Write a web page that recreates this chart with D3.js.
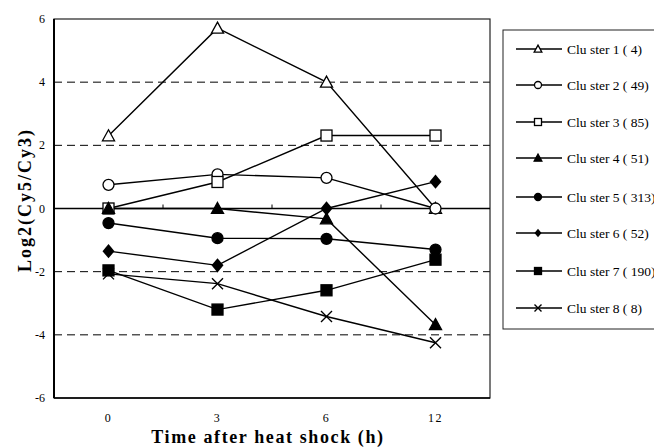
<!DOCTYPE html>
<html>
<head>
<meta charset="utf-8">
<script src="https://cdn.jsdelivr.net/npm/d3@7"></script>
<style>
body { margin: 0; background: #fff; }
svg text { font-family: "Liberation Serif", "Times New Roman", serif; }
</style>
</head>
<body>
<div id="chart"></div>
<script>
var times = ["0", "3", "6", "12"];
var yTicks = [-6, -4, -2, 0, 2, 4, 6];
var clusterNames = ["Clu ster 1 ( 4)", "Clu ster 2 ( 49)", "Clu ster 3 ( 85)", "Clu ster 4 ( 51)",
    "Clu ster 5 ( 313)", "Clu ster 6 ( 52)", "Clu ster 7 ( 190)", "Clu ster 8 ( 8)"];
var markers = ["triangleOpen", "circleOpen", "squareOpen", "triangle", "circle", "diamond", "square", "cross"];
var c1 = [2.3, 5.71, 4.0, 0];
var c2 = [0.75, 1.08, 0.97, 0];
var c3 = [0, 0.84, 2.31, 2.31];
var c4 = [0, 0, -0.33, -3.68];
var c5 = [-0.46, -0.94, -0.96, -1.3];
var c6 = [-1.35, -1.8, 0, 0.85];
var c7 = [-1.96, -3.2, -2.59, -1.62];
var c8 = [-2.07, -2.38, -3.42, -4.25];
var series = [c1, c2, c3, c4, c5, c6, c7, c8];

var svg = d3.select("#chart").append("svg").attr("width", 654).attr("height", 447);
var margin = {top: 19, left: 54};
var width = 436, height = 379;

var x = d3.scaleBand().domain(times).range([0, width]);
var y = d3.scaleLinear().domain([-6, 6]).range([height, 0]);

var g = svg.append("g").attr("transform", `translate(${margin.left},${margin.top})`);

// dashed grid
g.selectAll(".grid").data(yTicks.filter(d => d != 0 && Math.abs(d) != 6)).enter().append("line")
    .attr("x1", 0).attr("x2", width).attr("y1", d => y(d)).attr("y2", d => y(d))
    .attr("stroke", "#000").attr("stroke-width", 1).attr("stroke-dasharray", "8,5");

// frame
g.append("rect").attr("x", 0).attr("y", 0).attr("width", width).attr("height", height)
    .attr("fill", "none").attr("stroke", "#222").attr("stroke-width", 1.2);
g.append("line").attr("x1", 0).attr("x2", 0).attr("y1", 0).attr("y2", height).attr("stroke", "#000").attr("stroke-width", 2);
g.append("line").attr("x1", 0).attr("x2", width).attr("y1", height).attr("y2", height).attr("stroke", "#000").attr("stroke-width", 1.5);

// zero line with category ticks
g.append("line").attr("x1", 0).attr("x2", width).attr("y1", y(0)).attr("y2", y(0)).attr("stroke", "#000").attr("stroke-width", 1.6);
g.selectAll(".xtick").data(times.slice(1)).enter().append("line")
    .attr("x1", d => x(d)).attr("x2", d => x(d)).attr("y1", y(0)).attr("y2", y(0) - 4)
    .attr("stroke", "#000").attr("stroke-width", 1);

// y tick labels
g.selectAll(".ylab").data(yTicks).enter().append("text")
    .attr("x", -9).attr("y", d => y(d) + 4).attr("text-anchor", "end")
    .attr("font-size", 12).text(d => d);

// x tick labels
g.selectAll(".xlab").data(times).enter().append("text")
    .attr("x", d => x(d) + x.bandwidth() / 2).attr("y", height + 24).attr("text-anchor", "middle")
    .attr("font-size", 12).attr("letter-spacing", 1.5).text(d => d);

// axis titles
svg.append("text").attr("x", 268).attr("y", 443).attr("text-anchor", "middle")
    .attr("font-size", 18).attr("font-weight", "bold").attr("letter-spacing", 1.6)
    .text("Time after heat shock (h)");
svg.append("text").attr("transform", "translate(31,200) rotate(-90)").attr("text-anchor", "middle")
    .attr("font-size", 18).attr("font-weight", "bold").attr("letter-spacing", 2)
    .text("Log2(Cy5/Cy3)");

function drawMarker(sel, type, s) {
    var filled = !type.endsWith("Open") && type != "cross";
    var fill = filled ? "#000" : "#fff";
    var base = type.replace("Open", "");
    if (base == "triangle") {
        sel.append("path").attr("d", `M0,${-s * 0.55}L${s * 0.55},${s * 0.45}L${-s * 0.55},${s * 0.45}Z`)
            .attr("fill", fill).attr("stroke", "#000").attr("stroke-width", 1.3);
    } else if (base == "circle") {
        sel.append("circle").attr("r", s * 0.5).attr("fill", fill).attr("stroke", "#000").attr("stroke-width", 1.3);
    } else if (base == "square") {
        sel.append("rect").attr("x", -s / 2).attr("y", -s / 2).attr("width", s).attr("height", s)
            .attr("fill", fill).attr("stroke", "#000").attr("stroke-width", 1.3);
    } else if (base == "diamond") {
        sel.append("path").attr("d", `M0,${-s * 0.6}L${s * 0.5},0L0,${s * 0.6}L${-s * 0.5},0Z`).attr("fill", "#000");
    } else if (base == "cross") {
        var h = s * 0.5;
        sel.append("path").attr("d", `M${-h},${-h}L${h},${h}M${-h},${h}L${h},${-h}`)
            .attr("stroke", "#000").attr("stroke-width", 1.4).attr("fill", "none");
    }
}

var line = d3.line().x((d, i) => x(times[i]) + x.bandwidth() / 2).y(d => y(d));

series.forEach(function(vals, k) {
    g.append("path").datum(vals).attr("d", line).attr("fill", "none").attr("stroke", "#000").attr("stroke-width", 1.4);
});
series.forEach(function(vals, k) {
    vals.forEach(function(v, i) {
        var m = g.append("g").attr("transform", `translate(${x(times[i]) + x.bandwidth() / 2},${y(v)})`);
        drawMarker(m, markers[k], markers[k] == "diamond" ? 12 : 11);
    });
});

// legend
var leg = svg.append("g").attr("transform", "translate(503,30)");
leg.append("rect").attr("x", 0).attr("y", 0).attr("width", 160).attr("height", 299)
    .attr("fill", "#fff").attr("stroke", "#222").attr("stroke-width", 1);
var legY = [19, 55, 92, 128, 167, 203, 241, 278];
clusterNames.forEach(function(name, k) {
    var row = leg.append("g").attr("transform", `translate(0,${legY[k]})`);
    row.append("line").attr("x1", 13).attr("x2", 59).attr("y1", 0).attr("y2", 0).attr("stroke", "#000").attr("stroke-width", 1.4);
    var m = row.append("g").attr("transform", "translate(35,0)");
    drawMarker(m, markers[k], 7);
    row.append("text").attr("x", 64).attr("y", 5).attr("font-size", 13.5).text(name);
});
</script>
</body>
</html>
